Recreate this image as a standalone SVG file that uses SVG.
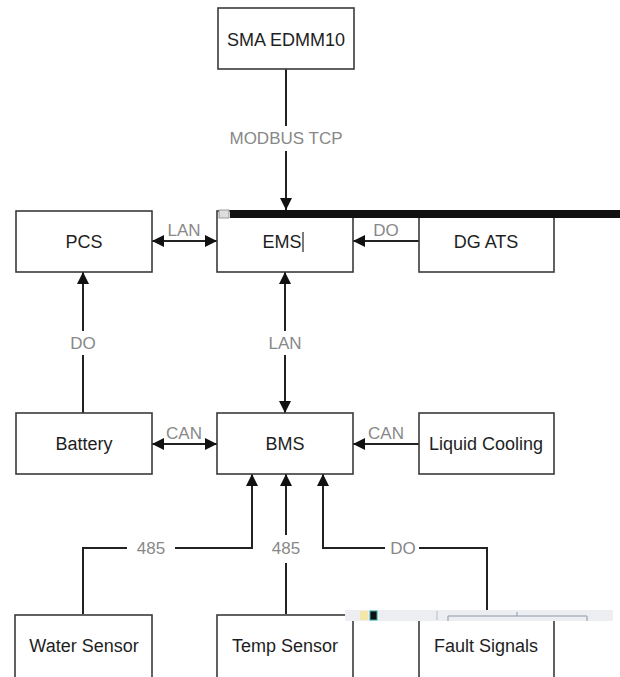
<svg xmlns="http://www.w3.org/2000/svg" width="620" height="677" viewBox="0 0 620 677">
<style>
.box{fill:#fff;stroke:#3a3a3a;stroke-width:1.6}
.nt{font-family:"Liberation Sans",Arial,sans-serif;font-size:18px;fill:#1e1e1e;text-anchor:middle}
.lb{font-family:"Liberation Sans",Arial,sans-serif;font-size:17px;fill:#888;text-anchor:middle}
.ln{fill:none;stroke:#222;stroke-width:2}
.bg{fill:#fff}
</style>
<defs>
<marker id="ah" viewBox="0 0 10 10" refX="10" refY="5" markerWidth="6" markerHeight="6" markerUnits="strokeWidth" orient="auto-start-reverse">
<path d="M0,0 L10,5 L0,10 z" fill="#111"/>
</marker>
</defs>
<rect width="620" height="677" fill="#fff"/>
<g id="connectors">
<path class="ln" d="M286,69 V210" marker-end="url(#ah)"/>
<path class="ln" d="M152,241 H217" marker-start="url(#ah)" marker-end="url(#ah)"/>
<path class="ln" d="M419,241 H353" marker-end="url(#ah)"/>
<path class="ln" d="M83,413 V272" marker-end="url(#ah)"/>
<path class="ln" d="M285,272 V413" marker-start="url(#ah)" marker-end="url(#ah)"/>
<path class="ln" d="M152,444 H217" marker-start="url(#ah)" marker-end="url(#ah)"/>
<path class="ln" d="M419,444 H353" marker-end="url(#ah)"/>
<path class="ln" d="M83,614 V548 H252 V474" marker-end="url(#ah)"/>
<path class="ln" d="M286,614 V474" marker-end="url(#ah)"/>
<path class="ln" d="M487,612 V548 H323 V474" marker-end="url(#ah)"/>
<rect class="bg" x="224" y="126" width="124" height="25"/>
<text class="lb" x="286" y="144">MODBUS TCP</text>
<text class="lb" x="184" y="236">LAN</text>
<text class="lb" x="386" y="236">DO</text>
<rect class="bg" x="68" y="331" width="30" height="24"/>
<text class="lb" x="83" y="349">DO</text>
<rect class="bg" x="265" y="331" width="40" height="24"/>
<text class="lb" x="285" y="349">LAN</text>
<text class="lb" x="184" y="439">CAN</text>
<text class="lb" x="386" y="439">CAN</text>
<rect class="bg" x="127" y="537" width="48" height="24"/>
<text class="lb" x="151" y="554">485</text>
<rect class="bg" x="265" y="535" width="42" height="28"/>
<text class="lb" x="286" y="554">485</text>
<rect class="bg" x="385" y="537" width="34" height="24"/>
<text class="lb" x="403" y="554">DO</text>
</g>
<g id="sma"><rect class="box" x="218" y="8" width="136" height="61"/><text class="nt" x="286" y="46">SMA EDMM10</text></g>
<g id="pcs"><rect class="box" x="16" y="211" width="136" height="61"/><text class="nt" x="84" y="248">PCS</text></g>
<g id="ems"><rect class="box" x="217" y="211" width="136" height="61"/><text class="nt" x="282" y="248">EMS</text><line x1="303" y1="232" x2="303" y2="252" stroke="#222" stroke-width="1.2"/></g>
<g id="dgats"><rect class="box" x="419" y="211" width="135" height="61"/><text class="nt" x="486" y="248">DG ATS</text></g>
<g id="battery"><rect class="box" x="16" y="413" width="136" height="61"/><text class="nt" x="84" y="450">Battery</text></g>
<g id="bms"><rect class="box" x="217" y="413" width="136" height="61"/><text class="nt" x="285" y="450">BMS</text></g>
<g id="cooling"><rect class="box" x="419" y="413" width="135" height="61"/><text class="nt" x="486" y="450">Liquid Cooling</text></g>
<g id="water"><rect class="box" x="15" y="615" width="137" height="70"/><text class="nt" x="84" y="652">Water Sensor</text></g>
<g id="temp"><rect class="box" x="217" y="615" width="136" height="70"/><text class="nt" x="285" y="652">Temp Sensor</text></g>
<g id="fault"><rect class="box" x="419" y="615" width="135" height="70"/><text class="nt" x="486" y="652">Fault Signals</text></g>
<g id="artifacts">
<rect x="230" y="210" width="390" height="8" fill="#111"/>
<rect x="219" y="210" width="10" height="8" fill="#ddd" stroke="#888" stroke-width="0.8"/>
<rect x="345" y="610" width="268" height="11" fill="#eceef1"/>
<rect x="360" y="611" width="8" height="9" fill="#f3e6a8"/>
<rect x="370" y="611" width="7" height="9" fill="#111" stroke="#3aa" stroke-width="1"/>
<line x1="437" y1="611" x2="437" y2="620" stroke="#bbb"/>
<path d="M448,621 V616 H587 V621" fill="none" stroke="#8a9aa8" stroke-width="1"/>
<line x1="517" y1="612" x2="517" y2="616" stroke="#8a9aa8"/>
</g>
</svg>
